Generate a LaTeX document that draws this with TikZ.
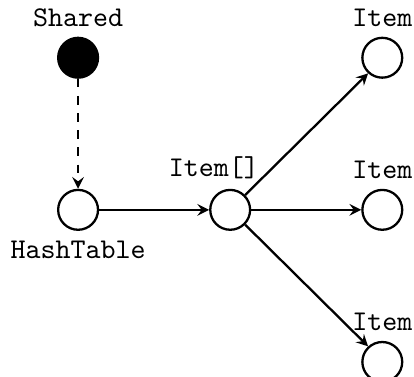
\documentclass[tikz,border=0pt]{standalone}
\begin{document}
\begin{tikzpicture}[>=stealth, font=\ttfamily,
    obj/.style={circle, draw, thick, minimum size=0.49cm, inner sep=0pt}]
    \useasboundingbox (-0.96,-2.05) rectangle (4.13,2.58);

    \node[obj, fill=black, label=above:Shared] (shared) at (0,1.87) {};
    \node[obj, label=below:HashTable] (table) at (0,0) {};
    \node[obj, label={[xshift=-0.2cm]above:{Item[]}}] (arr) at (1.87,0) {};
    \node[obj, label=above:Item] (item1) at (3.74,1.87) {};
    \node[obj, label=above:Item] (item2) at (3.74,0) {};
    \node[obj, label=above:Item] (item3) at (3.74,-1.87) {};

    \draw[->, thick, dashed] (shared) -- (table);
    \draw[->, thick] (table) -- (arr);
    \draw[->, thick] (arr) -- (item1);
    \draw[->, thick] (arr) -- (item2);
    \draw[->, thick] (arr) -- (item3);
\end{tikzpicture}
\end{document}
